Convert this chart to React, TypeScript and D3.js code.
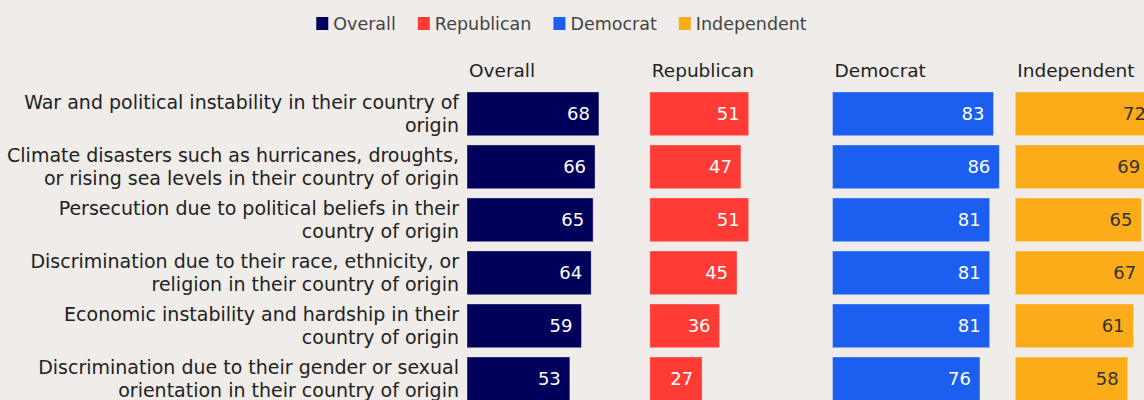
import React from "react";
import * as d3 from "d3";

const categories: string[][] = [
  ["War and political instability in their country of", "origin"],
  ["Climate disasters such as hurricanes, droughts,", "or rising sea levels in their country of origin"],
  ["Persecution due to political beliefs in their", "country of origin"],
  ["Discrimination due to their race, ethnicity, or", "religion in their country of origin"],
  ["Economic instability and hardship in their", "country of origin"],
  ["Discrimination due to their gender or sexual", "orientation in their country of origin"],
];
const groups = ["Overall", "Republican", "Democrat", "Independent"];
const overall = [68, 66, 65, 64, 59, 53];
const republican = [51, 47, 51, 45, 36, 27];
const democrat = [83, 86, 81, 81, 81, 76];
const independent = [72, 69, 65, 67, 61, 58];
const seriesValues = [overall, republican, democrat, independent];
const colors = ["#00005a", "#ff3b36", "#1b5ef0", "#fcab19"];
const valueColors = ["#ffffff", "#ffffff", "#ffffff", "#333333"];

const W = 1144;
const H = 400;
const FONT = "'DejaVu Sans', sans-serif";
const FS_LABEL = 19;
const FS_HEAD = 18.5;
const FS_LEG = 17.5;
const FS_VAL = 18;

function measure(text: string, size: number) {
  const c = document.createElement("canvas").getContext("2d")!;
  c.font = `${size}px DejaVu Sans`;
  return c.measureText(text).width;
}

export default function App() {
  const keys = categories.map((c) => c.join(" "));
  const col = d3.scaleBand<string>().domain(groups).range([467, 1198]);
  const row = d3
    .scaleBand<string>()
    .domain(keys)
    .range([82.7, 410])
    .paddingInner(0.175)
    .paddingOuter(0.175);
  const x = d3.scaleLinear().domain([0, 100]).range([0, 194]);

  // legend layout
  const sq = 12;
  const gapSqText = 5;
  const gapItems = 22;
  const widths = groups.map((g) => sq + gapSqText + measure(g, FS_LEG));
  const total = d3.sum(widths) + gapItems * (groups.length - 1);
  const lx0 = 561.5 - total / 2;
  let acc = lx0;
  const legendX = widths.map((w) => {
    const p = acc;
    acc += w + gapItems;
    return p;
  });

  return (
    <svg
      width={W}
      height={H}
      style={{ position: "absolute", left: 0, top: 0, display: "block" }}
      fontFamily={FONT}
    >
      <rect width={W} height={H} fill="#efece9" />
      <g>
        {groups.map((g, i) => (
          <g key={g} transform={`translate(${legendX[i]},0)`}>
            <rect x={0} y={17} width={sq} height={13} fill={colors[i]} />
            <text x={sq + gapSqText} y={30} fontSize={FS_LEG} fill="#444">
              {g}
            </text>
          </g>
        ))}
      </g>
      {groups.map((g) => (
        <text key={g} x={(col(g) as number) + 2} y={77} fontSize={FS_HEAD} fill="#222">
          {g}
        </text>
      ))}
      {categories.map((lines, i) => {
        const cy = (row(keys[i]) as number) + row.bandwidth() / 2;
        return (
          <text key={i} textAnchor="end" fontSize={FS_LABEL} fill="#222">
            {lines.map((l, j) => (
              <tspan key={j} x={459} y={cy - 5 + j * 23}>
                {l}
              </tspan>
            ))}
          </text>
        );
      })}
      {groups.map((g, gi) => (
        <g key={g} transform={`translate(${col(g)},0)`}>
          {seriesValues[gi].map((v, i) => {
            const y = row(keys[i]) as number;
            return (
              <g key={i}>
                <rect
                  x={0}
                  y={y}
                  width={x(v)}
                  height={row.bandwidth()}
                  fill={colors[gi]}
                  stroke="#ffffff"
                  strokeOpacity={0.35}
                  strokeWidth={1}
                />
                <text
                  x={x(v) - 9}
                  y={y + row.bandwidth() / 2 + 6.5}
                  textAnchor="end"
                  fontSize={FS_VAL}
                  fill={valueColors[gi]}
                >
                  {v}
                </text>
              </g>
            );
          })}
        </g>
      ))}
    </svg>
  );
}
